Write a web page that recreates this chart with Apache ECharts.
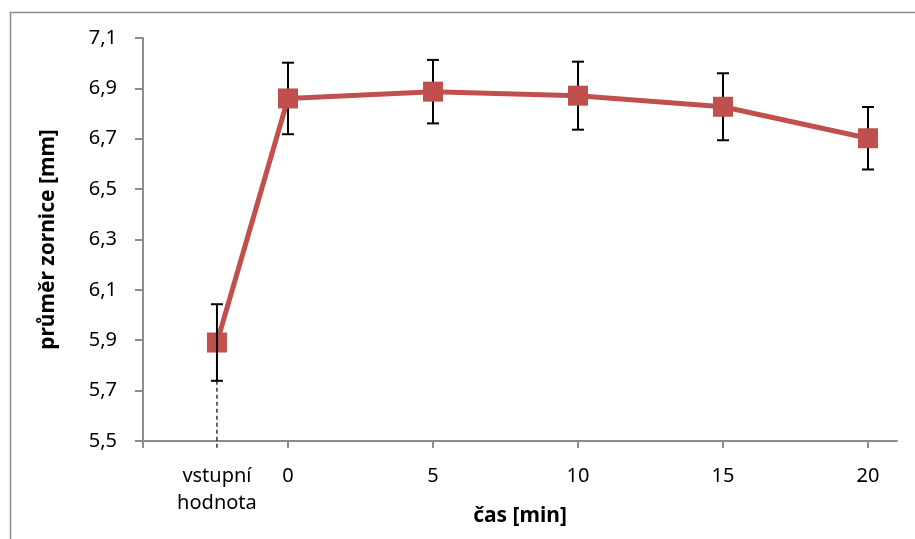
<!DOCTYPE html>
<html>
<head>
<meta charset="utf-8">
<script src="https://cdn.jsdelivr.net/npm/echarts@6/dist/echarts.min.js"></script>
<style>
  html, body { margin: 0; padding: 0; background: #ffffff; }
  #chart { width: 915px; height: 539px; }
</style>
</head>
<body>
<div id="chart"></div>
<script>
// Pupil diameter over time, mean ± error
const categories = ['vstupní\nhodnota', '0', '5', '10', '15', '20'];
const xPositions = [-2.45, 0, 5, 10, 15, 20];
const meanValues = [5.891, 6.860, 6.887, 6.871, 6.827, 6.702];
const errorValues = [0.152, 0.142, 0.126, 0.135, 0.133, 0.124];
const yTicks = [5.5, 5.7, 5.9, 6.1, 6.3, 6.5, 6.7, 6.9, 7.1];
const xTicks = [-5, 0, 5, 10, 15, 20];
const xRange = [-5, 21];
const yRange = [5.5, 7.1];

const FONT = '"Noto Sans", "Open Sans", sans-serif';
const AXIS_GRAY = '#8c8c8c';
const RED = '#c0504d';

const lineData = xPositions.map((x, i) => [x, meanValues[i]]);
const errData = xPositions.map((x, i) => [x, meanValues[i] - errorValues[i], meanValues[i] + errorValues[i], i]);

function labelFor(v) {
  const i = xPositions.findIndex(p => Math.abs(p - v) < 1e-6);
  return i >= 0 ? categories[i] : '';
}

function renderErrorBar(params, api) {
  const x = api.value(0), lo = api.value(1), hi = api.value(2), idx = api.value(3);
  const top = api.coord([x, hi]);
  const bot = api.coord([x, lo]);
  const cap = 6;
  const style = { stroke: '#000000', lineWidth: 2 };
  const children = [
    { type: 'line', shape: { x1: top[0], y1: top[1], x2: bot[0], y2: bot[1] }, style },
    { type: 'line', shape: { x1: top[0] - cap, y1: top[1], x2: top[0] + cap, y2: top[1] }, style },
    { type: 'line', shape: { x1: bot[0] - cap, y1: bot[1], x2: bot[0] + cap, y2: bot[1] }, style }
  ];
  if (idx === 0) {
    // drop line from the baseline point down through the axis
    const base = api.coord([x, yRange[0]]);
    children.push({
      type: 'line',
      shape: { x1: bot[0], y1: bot[1], x2: base[0], y2: base[1] + 7 },
      style: { stroke: '#000000', lineWidth: 1.2, lineDash: [4, 3] }
    });
  }
  return { type: 'group', children };
}

const chart = echarts.init(document.getElementById('chart'), null, { renderer: 'canvas' });
chart.setOption({
  animation: false,
  backgroundColor: '#ffffff',
  graphic: [{
    type: 'rect',
    left: 8, top: 10,
    shape: { width: 1000, height: 1000 },
    style: { fill: 'none', stroke: AXIS_GRAY, lineWidth: 1.5 },
    silent: true
  }],
  grid: { left: 143, top: 38, right: 18, bottom: 98, containLabel: false, outerBoundsMode: 'none' },
  xAxis: {
    type: 'value',
    min: xRange[0], max: xRange[1],
    name: 'čas [min]',
    nameLocation: 'middle',
    nameGap: 65,
    nameMoveOverlap: false,
    nameTextStyle: { fontFamily: FONT, fontSize: 21, fontWeight: 'bold', color: '#000' },
    axisLine: { show: true, onZero: false, lineStyle: { color: AXIS_GRAY, width: 2 } },
    axisTick: { show: true, length: 7, lineStyle: { color: AXIS_GRAY, width: 2 }, customValues: xTicks },
    axisLabel: {
      customValues: xPositions,
      formatter: labelFor,
      fontFamily: FONT, fontSize: 20, color: '#000', lineHeight: 27, margin: 22
    },
    splitLine: { show: false }
  },
  yAxis: {
    type: 'value',
    min: yRange[0], max: yRange[1],
    name: 'průměr zornice [mm]',
    nameLocation: 'middle',
    nameGap: 84,
    nameMoveOverlap: false,
    nameRotate: 90,
    nameTextStyle: { fontFamily: FONT, fontSize: 21, fontWeight: 'bold', color: '#000' },
    axisLine: { show: true, onZero: false, lineStyle: { color: AXIS_GRAY, width: 2 } },
    axisTick: { show: true, length: 8, lineStyle: { color: AXIS_GRAY, width: 2 }, customValues: yTicks },
    axisLabel: {
      customValues: yTicks,
      formatter: v => v.toFixed(1).replace('.', ','),
      fontFamily: FONT, fontSize: 20, color: '#000', margin: 26
    },
    splitLine: { show: false }
  },
  series: [
    {
      type: 'custom',
      z: 1,
      renderItem: renderErrorBar,
      data: errData.slice(1),
      clip: false
    },
    {
      type: 'line',
      z: 2,
      data: lineData,
      symbol: 'rect',
      symbolSize: 20,
      lineStyle: { color: RED, width: 5 },
      itemStyle: { color: RED },
      clip: false
    },
    {
      type: 'custom',
      z: 3,
      renderItem: renderErrorBar,
      data: errData.slice(0, 1),
      clip: false
    }
  ]
});
</script>
</body>
</html>
